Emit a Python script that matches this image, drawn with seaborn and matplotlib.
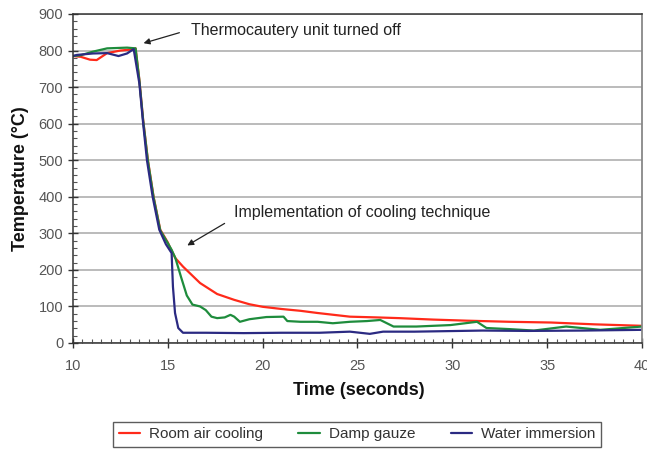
import numpy as np
import pandas as pd
import matplotlib
matplotlib.use("Agg")
import matplotlib.pyplot as plt
from matplotlib.ticker import MultipleLocator
import seaborn as sns

# values
room_time = [10.0, 10.4, 10.9, 11.25, 11.8, 12.5, 13.1, 13.3, 13.5, 13.7, 13.95, 14.25,
             14.6, 15.0, 15.1, 15.4, 15.8, 16.7, 17.6, 18.5, 19.3, 20.0, 21.0, 22.0,
             22.9, 24.6, 26.0, 27.2, 29.0, 30.8, 33.0, 35.2, 37.5, 40.0]
room_temp = [785, 783, 775, 774, 793, 800, 803, 806, 720, 610, 500, 400,
             310, 275, 263, 232, 209, 164, 134, 118, 106, 99, 93, 88,
             82, 72, 70, 68, 64, 61, 58, 56, 51, 47]

gauze_time = [10.0, 10.4, 11.05, 11.8, 12.85, 13.3, 13.5, 13.7, 13.95, 14.25, 14.6,
              15.0, 15.2, 15.4, 15.7, 16.0, 16.3, 16.7, 17.0, 17.3, 17.6, 18.0, 18.3,
              18.5, 18.8, 19.3, 20.2, 21.1, 21.3, 22.0, 22.9, 23.7, 24.6, 25.5, 26.2,
              26.9, 28.1, 29.9, 31.3, 31.8, 33.0, 34.3, 36.0, 37.8, 40.0]
gauze_temp = [785, 787, 797, 806, 808, 806, 718, 608, 498, 398, 308,
              273, 255, 232, 180, 130, 105, 100, 90, 72, 68, 70, 77,
              72, 58, 65, 71, 72, 60, 58, 58, 54, 58, 60, 63,
              45, 45, 49, 58, 41, 38, 34, 45, 36, 45]

water_time = [10.0, 10.2, 11.05, 11.8, 12.4, 12.85, 13.2, 13.5, 13.7, 13.9, 14.2,
              14.55, 14.9, 15.2, 15.27, 15.38, 15.55, 15.8, 17.0, 19.0, 21.0, 23.0,
              24.6, 25.65, 26.35, 28.0, 31.6, 34.0, 36.9, 40.0]
water_temp = [785, 788, 792, 793, 785, 792, 804, 710, 600, 500, 400,
              310, 270, 246, 154, 82, 41, 28, 28, 27, 28, 28,
              31, 25, 31, 31, 34, 33, 34, 36]

series_names = ["Room air cooling", "Damp gauze", "Water immersion"]
series_colors = ["#ff2a1a", "#1e8c3c", "#2b2a82"]

df = pd.concat([
    pd.DataFrame({"time": room_time, "temp": room_temp, "method": series_names[0]}),
    pd.DataFrame({"time": gauze_time, "temp": gauze_temp, "method": series_names[1]}),
    pd.DataFrame({"time": water_time, "temp": water_temp, "method": series_names[2]}),
])

sns.set_theme(style="white")
plt.rcParams["font.family"] = ["Liberation Sans", "DejaVu Sans"]

fig = plt.figure(figsize=(6.47, 4.5), dpi=100)
ax = fig.add_axes([0.1128, 0.2378, 0.8795, 0.7311])

sns.lineplot(data=df, x="time", y="temp", hue="method", hue_order=series_names,
             palette=series_colors, estimator=None, sort=False, linewidth=1.6,
             ax=ax, legend=False)

ax.set_xlim(10, 40)
ax.set_ylim(0, 900)
ax.xaxis.set_major_locator(MultipleLocator(5))
ax.xaxis.set_minor_locator(MultipleLocator(0.5))
ax.yaxis.set_major_locator(MultipleLocator(100))
ax.yaxis.set_minor_locator(MultipleLocator(20))
ax.grid(axis="y", which="major", color="#a8a8a8", linewidth=1.1)
ax.set_axisbelow(True)

ax.tick_params(which="major", direction="inout", length=7, width=1, color="#333333",
               labelsize=10.5, labelcolor="#555555", bottom=True, left=True)
ax.tick_params(which="minor", direction="in", length=3, width=0.8, color="#555555",
               bottom=True, left=True)
ax.tick_params(axis="x", which="major", pad=8)

for side in ["left", "bottom", "top"]:
    ax.spines[side].set_color("#333333")
    ax.spines[side].set_linewidth(1.1)
ax.spines["right"].set_color("#888888")
ax.spines["right"].set_linewidth(1.3)

ax.set_xlabel("Time (seconds)", fontsize=13, fontweight="bold", color="#111111")
ax.set_ylabel("Temperature (°C)", fontsize=13, fontweight="bold", color="#111111")
ax.xaxis.set_label_coords(0.502, -0.118)
ax.yaxis.set_label_coords(-0.078, 0.5)

arrow = dict(arrowstyle="-|>", color="#222222", lw=0.9, mutation_scale=9)
ax.annotate("", xy=(13.58, 818), xytext=(15.75, 851), arrowprops=arrow)
ax.text(16.2, 856, "Thermocautery unit turned off", fontsize=11.5, color="#222222",
        va="center", ha="left")
ax.annotate("", xy=(15.9, 263), xytext=(18.12, 331), arrowprops=arrow)
ax.text(18.5, 356, "Implementation of cooling technique", fontsize=11.5, color="#222222",
        va="center", ha="left")

handles = [plt.Line2D([], [], color=c, linewidth=1.6) for c in series_colors]
leg = fig.legend(handles, series_names, loc="center", bbox_to_anchor=(0.552, 0.035),
                 ncol=3, fontsize=11, frameon=True, fancybox=False, handlelength=1.4,
                 columnspacing=2.3, handletextpad=0.6, borderpad=0.35)
leg.get_frame().set_edgecolor("#333333")
leg.get_frame().set_linewidth(1.0)
for t in leg.get_texts():
    t.set_color("#333333")

fig.savefig("out.png", dpi=100)
